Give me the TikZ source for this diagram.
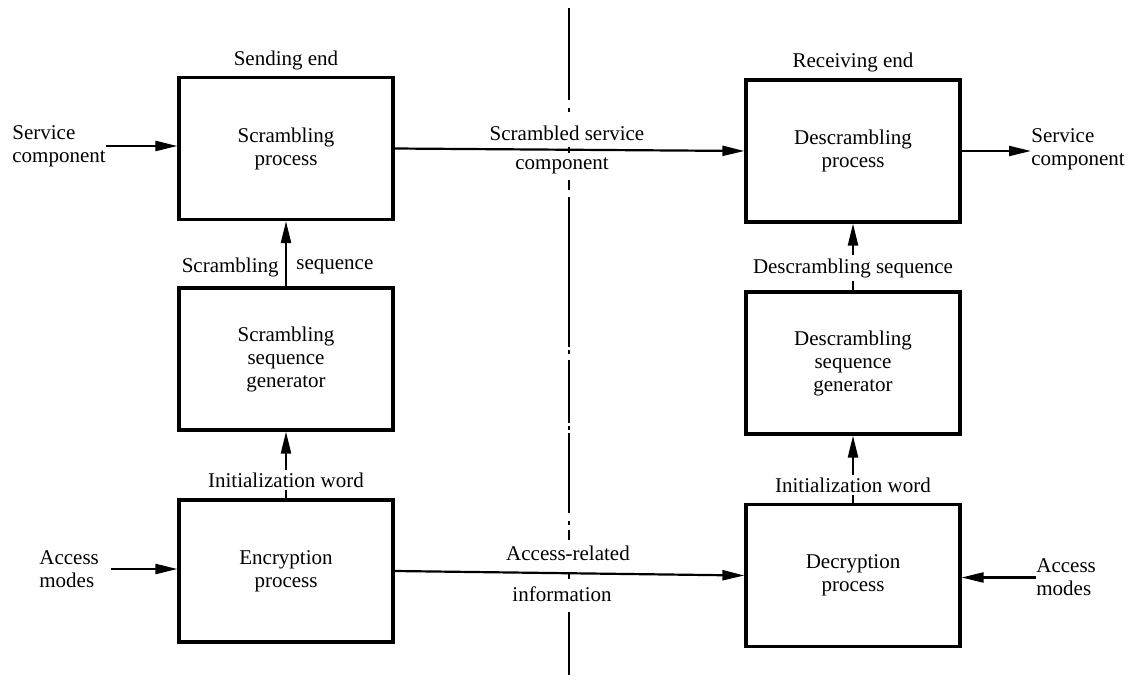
\documentclass[tikz,border=0pt]{standalone}
\usepackage{fontspec}
\setmainfont{Liberation Serif}
\usetikzlibrary{arrows.meta}
\begin{document}
\begin{tikzpicture}[x=0.5pt,y=-0.5pt,
  every node/.style={font=\fontsize{10.5}{11.5}\selectfont},
  blk/.style={draw,line width=1.6pt,minimum width=107pt,minimum height=71pt,align=center,inner sep=0pt},
  arr/.style={line width=1.1pt,-{Triangle[length=11pt,width=5pt]}},
  lbl/.style={inner sep=0pt,align=center},
  lblw/.style={fill=white,inner sep=1.5pt,align=center},
  divline/.style={line width=1.2pt}]
\useasboundingbox (0,0) rectangle (1136,680);
% divider
\draw[divline] (569,8)--(569,100) (569,108)--(569,112) (569,147)--(569,153)
  (569,180)--(569,190) (569,197)--(569,347) (569,350)--(569,354)
  (569,360)--(569,423) (569,426)--(569,430) (569,433)--(569,513)
  (569,521)--(569,525) (569,530)--(569,540) (569,573)--(569,579)
  (569,612)--(569,675);
% blocks
\node[blk] (sp) at (286,148.5) {Scrambling\\process};
\node[blk] (sg) at (286,359) {Scrambling\\sequence\\generator};
\node[blk] (ep) at (286,571) {Encryption\\process};
\node[blk] (dsp) at (853,151) {Descrambling\\process};
\node[blk] (dsg) at (853,363) {Descrambling\\sequence\\generator};
\node[blk] (dp) at (853,575.5) {Decryption\\process};
% headings
\node[lbl] (se) at (286,60) {Sending end};
\node[lbl] (re) at (853,62) {Receiving end};
% side labels
\node[lbl,anchor=west,align=left] (sc1) at (12,146) {Service\\component};
\node[lbl,anchor=west,align=left] (sc2) at (1031,149) {Service\\component};
\node[lbl,anchor=west,align=left] (am1) at (39,569) {Access\\modes};
\node[lbl,anchor=west,align=left] (am2) at (1036,577.5) {Access\\modes};
% connectors
\draw[arr] (sc1.east) -- (sc1.east -| sp.west);
\draw[arr] (sp.east) -- (dsp.west);
\draw[arr] (dsp.east) -- (dsp.east -| sc2.west);
\draw[arr] ([xshift=6pt]am1.east) -- (am1.east -| ep.west);
\draw[arr] (am2.west) -- (am2.west -| dp.east);
\draw[arr] (ep.east) -- (dp.west);
\draw[arr] (sg.north) -- (sp.south);
\draw[arr] (ep.north) -- (sg.south);
\draw[arr] (dsg.north) -- (dsp.south);
\draw[arr] (dp.north) -- (dsg.south);
% connector labels
\node[lbl] (l1) at (567,133) {Scrambled service};
\node[lbl] (l2) at (562,166) {component};
\node[lbl] (l3) at (568,553) {Access-related};
\node[lbl] (l4) at (562,594) {information};
\node[lbl,anchor=east] (l5) at (279,267) {Scrambling};
\node[lbl,anchor=west] (l6) at (296,267) {sequence};
\node[lblw] (l7) at (286,480) {Initialization word};
\node[lblw] (l8) at (853,268) {Descrambling sequence};
\node[lblw] (l9) at (853,485) {Initialization word};
\end{tikzpicture}
\end{document}
